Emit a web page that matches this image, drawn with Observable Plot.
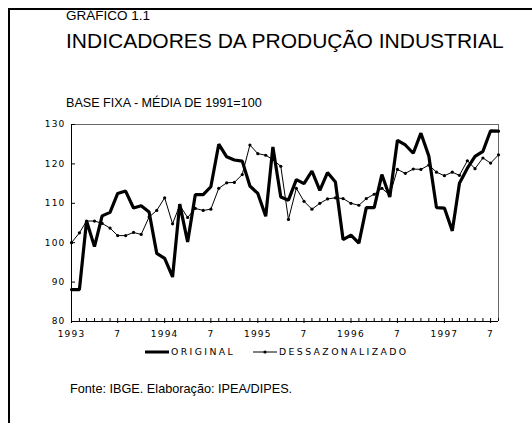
<!DOCTYPE html>
<html><head><meta charset="utf-8">
<script src="https://cdn.jsdelivr.net/npm/d3@7"></script>
<script src="https://cdn.jsdelivr.net/npm/@observablehq/plot@0.6"></script>
<style>
html,body{margin:0;padding:0;background:#fff;}
body{width:532px;height:423px;overflow:hidden;position:relative;font-family:"Liberation Sans",Arial,sans-serif;color:#000;}
#frame{position:absolute;left:0;top:0;z-index:5;}
.t{position:absolute;white-space:nowrap;line-height:1.2;}
#chart{position:absolute;left:0;top:110px;}
.leg{position:absolute;top:345px;left:0;width:532px;height:14px;font-family:"DejaVu Sans",sans-serif;font-size:9.3px;letter-spacing:2.4px;}
.leg span{position:absolute;top:1px;white-space:nowrap;}
.leg svg{position:absolute;top:0;}
</style>
</head><body>
<svg id="frame" width="532" height="423"><path d="M9 423 V9 H532" fill="none" stroke="#000" stroke-width="2"/></svg>
<div class="t" style="left:66px;top:8px;font-size:13.5px;">GRÁFICO 1.1</div>
<div class="t" style="left:66px;top:28px;font-size:21px;">INDICADORES DA PRODUÇÃO INDUSTRIAL</div>
<div class="t" style="left:66px;top:96px;font-size:12.6px;">BASE FIXA - MÉDIA DE 1991=100</div>
<div id="chart"></div>
<div class="leg">
  <svg style="left:144px" width="26" height="14"><line x1="1" x2="25" y1="7" y2="7" stroke="#000" stroke-width="3"/></svg>
  <span style="left:171px">ORIGINAL</span>
  <svg style="left:252px" width="26" height="14"><line x1="1" x2="25" y1="7" y2="7" stroke="#000" stroke-width="1"/><circle cx="13" cy="7" r="1.6" fill="#000"/></svg>
  <span style="left:279px">DESSAZONALIZADO</span>
</div>
<div class="t" style="left:70px;top:382px;font-size:12.7px;">Fonte: IBGE. Elaboração: IPEA/DIPES.</div>
<script>
const startMonth = new Date(Date.UTC(1993, 0, 1));
const endMonth = new Date(Date.UTC(1997, 7, 1));
const months = d3.utcMonth.range(startMonth, new Date(Date.UTC(1997, 8, 1)));

const original = [88.1, 88.1, 105.5, 99.0, 106.8, 107.7, 112.5, 113.1, 108.8, 109.4,
  107.8, 97.3, 96.0, 91.3, 109.8, 100.2, 112.2, 112.2, 114.2, 125.0,
  121.8, 121.0, 120.7, 114.4, 112.5, 106.7, 124.3, 111.6, 110.8, 116.0,
  115.0, 118.2, 113.3, 117.8, 115.4, 100.8, 101.9, 99.9, 108.9, 108.9,
  117.3, 111.6, 126.0, 124.8, 122.7, 127.8, 122.0, 108.9, 108.8, 103.0,
  115.1, 118.9, 121.9, 123.2, 128.4, 128.3];

const dessazonalizado = [100.0, 102.5, 105.5, 105.5, 104.9, 103.7, 101.8, 101.8, 102.6, 102.1,
  106.5, 108.2, 111.4, 104.8, 109.5, 106.4, 108.7, 108.2, 108.5, 113.8,
  115.2, 115.3, 117.3, 124.8, 122.6, 122.2, 121.1, 119.4, 105.9, 113.8,
  110.5, 108.5, 110.0, 111.1, 111.4, 111.2, 110.0, 109.5, 111.2, 112.3,
  113.8, 112.1, 118.6, 117.6, 118.7, 118.6, 119.7, 117.9, 117.0, 117.9,
  117.1, 120.8, 118.8, 121.5, 120.2, 122.3];

const yTicks = [80, 90, 100, 110, 120, 130];
const majorTicks = months.filter(d => d.getUTCMonth() === 0 || d.getUTCMonth() === 6);
const xLabel = d => d.getUTCMonth() === 0 ? String(d.getUTCFullYear()) : (d.getUTCMonth() === 6 ? "7" : "");

const origRows = months.map((d, i) => ({date: d, value: original[i]}));
const desRows = months.map((d, i) => ({date: d, value: dessazonalizado[i]}));

const chart = Plot.plot({
  width: 532,
  height: 235,
  marginLeft: 71,
  marginRight: 34,
  marginTop: 14,
  marginBottom: 24,
  style: "font-family:'DejaVu Sans',sans-serif;font-size:9px;letter-spacing:1.2px;background:none;overflow:visible;color:#000;",
  x: {type: "utc", domain: [startMonth, endMonth], label: null},
  y: {domain: [80, 130], label: null},
  marks: [
    Plot.ruleY([130], {stroke: "#666", strokeWidth: 1}),
    Plot.ruleX([endMonth], {stroke: "#666", strokeWidth: 1}),
    Plot.line(desRows, {x: "date", y: "value", stroke: "#000", strokeWidth: 1}),
    Plot.dot(desRows, {x: "date", y: "value", r: 1.6, fill: "#000", stroke: null}),
    Plot.line(origRows, {x: "date", y: "value", stroke: "#000", strokeWidth: 3.2, strokeLinejoin: "miter"}),
    Plot.ruleX([startMonth], {stroke: "#000", strokeWidth: 1}),
    Plot.ruleY([80], {stroke: "#000", strokeWidth: 1}),
    Plot.axisX({ticks: months, tickSize: -3, tickPadding: 12, tickFormat: xLabel, stroke: "#000", label: null}),
    Plot.axisX({ticks: majorTicks, tickSize: 2, tickFormat: () => "", stroke: "#000", label: null}),
    Plot.axisY({ticks: yTicks, tickSize: -4, tickPadding: 10, tickFormat: d => String(d), stroke: "#000", label: null})
  ]
});
document.getElementById("chart").appendChild(chart);
</script>
</body></html>
